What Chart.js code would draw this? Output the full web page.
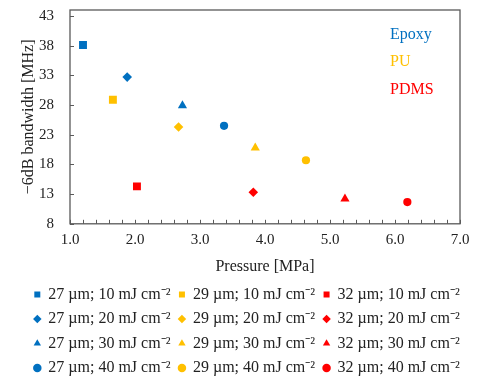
<!DOCTYPE html>
<html>
<head>
<meta charset="utf-8">
<script src="https://cdn.jsdelivr.net/npm/chart.js@4.4.1/dist/chart.umd.min.js"></script>
<style>
  html, body { margin: 0; padding: 0; background: #ffffff; }
  #wrap { width: 479px; height: 379px; }
</style>
</head>
<body>
<div id="wrap"><canvas id="c" width="479" height="379"></canvas></div>
<script>
// ---- data ----
const materials = ['Epoxy', 'PU', 'PDMS'];
const thicknesses = ['27 µm', '29 µm', '32 µm'];
const fluences = ['10', '20', '30', '40'];
const epoxyX = [1.20, 1.88, 2.73, 3.37];
const epoxyY = [38.1, 32.7, 27.9, 24.5];
const puX = [1.66, 2.67, 3.85, 4.63];
const puY = [28.9, 24.3, 20.8, 18.7];
const pdmsX = [2.03, 3.82, 5.23, 6.19];
const pdmsY = [14.3, 13.3, 12.2, 11.65];
const xTicks = [1, 2, 3, 4, 5, 6, 7];
const yTicks = [8, 13, 18, 23, 28, 33, 38, 43];

// ---- styles ----
const colors = ['#0070C0', '#FFC000', '#FF0000'];
const shapes = ['rect', 'rectRot', 'triangle', 'circle'];
const radii = { rect: 5.6, rectRot: 4.8, triangle: 5.3, circle: 4.1 };
const FONT = "'Liberation Serif', 'Times New Roman', serif";
const AXIS_COLOR = '#595959';

const xs = [epoxyX, puX, pdmsX];
const ys = [epoxyY, puY, pdmsY];

const datasets = [];
fluences.forEach((f, i) => {
  thicknesses.forEach((t, j) => {
    datasets.push({
      label: t + '; ' + f + ' mJ cm\u207B\u00B2',
      data: [{ x: xs[j][i], y: ys[j][i] }],
      backgroundColor: colors[j],
      borderColor: colors[j],
      borderWidth: 0,
      pointStyle: shapes[i],
      pointRadius: radii[shapes[i]],
      pointHoverRadius: radii[shapes[i]],
      showLine: false,
      yAxisID: 'y'
    });
  });
});

const framePlugin = {
  id: 'frame',
  afterDraw(chart) {
    const { ctx, chartArea: a, scales } = chart;
    ctx.save();
    ctx.strokeStyle = AXIS_COLOR;
    ctx.lineWidth = 1.3;
    ctx.strokeRect(a.left, a.top, a.right - a.left, a.bottom - a.top);
    ctx.lineWidth = 1;
    ctx.beginPath();
    const sx = scales.x;
    for (let k = 0; k <= 30; k++) {
      const v = sx.min + k * 0.2;
      const px = Math.round(sx.getPixelForValue(v)) + 0.5;
      ctx.moveTo(px, a.bottom);
      ctx.lineTo(px, a.bottom - 4);
    }
    yTicks.forEach(v => {
      const py = Math.round(scales.y.getPixelForValue(v)) + 0.5;
      ctx.moveTo(a.left, py);
      ctx.lineTo(a.left + 4, py);
    });
    ctx.stroke();
    ctx.font = '16px ' + FONT;
    ctx.textAlign = 'left';
    ctx.textBaseline = 'middle';
    const labelX = a.right - 70;
    materials.forEach((m, j) => {
      ctx.fillStyle = colors[j];
      ctx.fillText(m, labelX, a.top + 24.5 + j * 27.5);
    });
    ctx.restore();
  }
};

new Chart(document.getElementById('c'), {
  type: 'scatter',
  data: { datasets },
  options: {
    responsive: false,
    animation: false,
    events: [],
    layout: { padding: { left: 19, right: 4, top: 10, bottom: -7 } },
    plugins: {
      tooltip: { enabled: false },
      legend: {
        position: 'bottom',
        labels: {
          usePointStyle: true,
          boxWidth: 6,
          boxHeight: 6,
          padding: 8.5,
          color: '#222',
          font: { family: FONT, size: 16 }
        }
      }
    },
    scales: {
      x: {
        type: 'linear',
        min: 1, max: 7,
        afterBuildTicks: s => { s.ticks = xTicks.map(v => ({ value: v })); },
        afterFit: s => { s.paddingLeft = 0; s.paddingRight = 0; },
        grid: { display: false, drawTicks: false },
        border: { display: false },
        ticks: {
          padding: 7,
          color: '#222',
          font: { family: FONT, size: 15 },
          callback: v => Number(v).toFixed(1)
        },
        title: {
          display: true,
          text: 'Pressure [MPa]',
          color: '#222',
          font: { family: FONT, size: 16 },
          padding: { top: 1, bottom: 2 }
        }
      },
      y: {
        type: 'linear',
        min: 8, max: 44,
        afterBuildTicks: s => { s.ticks = yTicks.map(v => ({ value: v })); },
        afterFit: s => { s.width = 51; s.paddingTop = 0; s.paddingBottom = 0; },
        grid: { display: false, drawTicks: false },
        border: { display: false },
        ticks: {
          padding: 16,
          color: '#222',
          font: { family: FONT, size: 15 }
        },
        title: {
          display: true,
          text: '\u22126dB bandwidth [MHz]',
          color: '#222',
          font: { family: FONT, size: 16 },
          padding: { top: 0, bottom: 0 }
        }
      },
      yRight: {
        type: 'linear',
        position: 'right',
        display: true,
        min: 0, max: 1,
        afterFit: s => { s.width = 15; s.paddingTop = 0; s.paddingBottom = 0; },
        grid: { display: false, drawTicks: false },
        border: { display: false },
        ticks: { display: false }
      }
    }
  },
  plugins: [framePlugin]
});
</script>
</body>
</html>
